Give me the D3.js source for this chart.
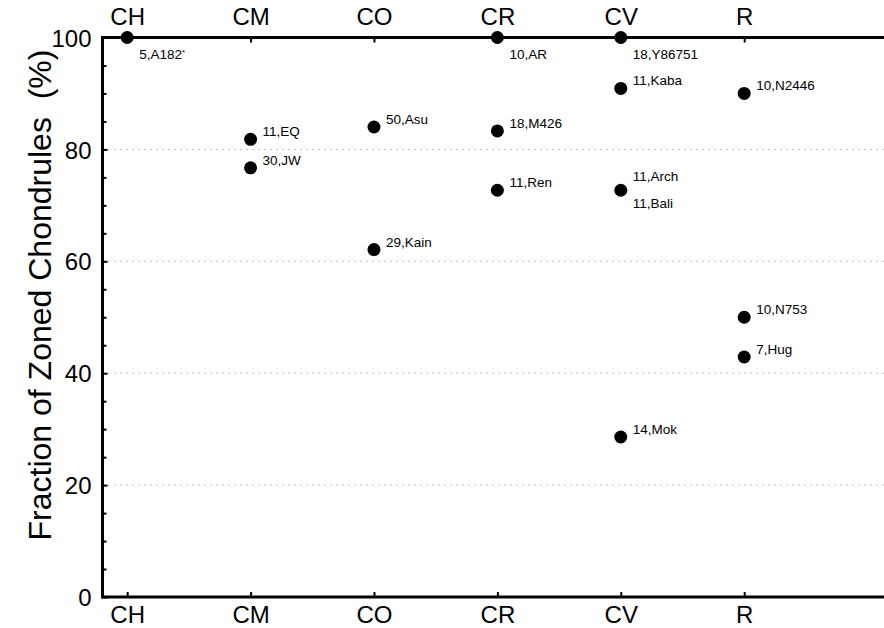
<!DOCTYPE html>
<html>
<head>
<meta charset="utf-8">
<script src="https://cdn.jsdelivr.net/npm/d3@7"></script>
<style>
  html, body { margin: 0; padding: 0; background: #fff; }
  svg { display: block; font-family: "Liberation Sans", Arial, Helvetica, sans-serif; }
</style>
</head>
<body>
<svg id="chart" width="884" height="628"></svg>
<script>
// ---- data ----
const categories = ["CH", "CM", "CO", "CR", "CV", "R"];
const pointCategory = ["CH", "CM", "CM", "CO", "CO", "CR", "CR", "CR", "CV", "CV", "CV", "CV", "R", "R", "R"];
const pointValue    = [100, 81.8, 76.7, 84.0, 62.1, 100, 83.3, 72.7, 100, 90.9, 72.7, 28.6, 90.0, 50.0, 42.9];
const pointLabel    = ["5,A182", "11,EQ", "30,JW", "50,Asu", "29,Kain", "10,AR", "18,M426", "11,Ren",
                       "18,Y86751", "11,Kaba", "11,Arch", "14,Mok", "10,N2446", "10,N753", "7,Hug"];
const extraLabel    = [{cat: "CV", value: 72.7, text: "11,Bali"}];
const yTicks = [0, 20, 40, 60, 80, 100];
const yMinorTicks = [5, 10, 15, 25, 30, 35, 45, 50, 55, 65, 70, 75, 85, 90, 95];
const gridValues = [20, 40, 60, 80];
const yTitle = "Fraction of Zoned Chondrules  (%)";

(function () {
const svg = d3.select("#chart");
const mLeft = 102.5, mTop = 37.5, mBottom = 597;
const catIndex = c => categories.indexOf(c) + 1;
const x = d3.scaleLinear().domain([0.8, 7.2]).range([mLeft, mLeft + 6.4 * 123.4]);
const y = d3.scaleLinear().domain([0, 100]).range([mBottom, mTop]);
const mRight = 900;

// gridlines
svg.append("g").selectAll("line").data(gridValues).join("line")
  .attr("x1", mLeft).attr("x2", mRight)
  .attr("y1", d => y(d)).attr("y2", d => y(d))
  .attr("stroke", "#999").attr("stroke-width", 1)
  .attr("stroke-dasharray", "1.2,4.8");

const axisStyle = g => {
  g.select(".domain").remove();
  g.selectAll(".tick line").attr("stroke", "#000").attr("stroke-width", 2);
  g.selectAll(".tick text").attr("fill", "#000").attr("font-size", 24)
    .attr("font-family", "Liberation Sans, Arial, Helvetica, sans-serif");
};

// bottom axis
svg.append("g").attr("transform", `translate(0,${mBottom})`)
  .call(d3.axisBottom(x).tickValues(categories.map(catIndex))
    .tickFormat(d => categories[d - 1]).tickSizeInner(-5).tickSizeOuter(0).tickPadding(12))
  .call(axisStyle)
  .call(g => g.selectAll(".tick text").attr("dy", "0.6em"));

// top axis
svg.append("g").attr("transform", `translate(0,${mTop})`)
  .call(d3.axisTop(x).tickValues(categories.map(catIndex))
    .tickFormat(d => categories[d - 1]).tickSizeInner(-5).tickSizeOuter(0).tickPadding(13))
  .call(axisStyle);

// left axis
svg.append("g").attr("transform", `translate(${mLeft},0)`)
  .call(d3.axisLeft(y).tickValues(yTicks).tickSizeInner(-5).tickSizeOuter(0).tickPadding(11))
  .call(axisStyle)
  .call(g => g.selectAll(".tick text").attr("dy", "0.36em"));

svg.append("g").attr("transform", `translate(${mLeft},0)`)
  .call(d3.axisLeft(y).tickValues(yMinorTicks).tickSizeInner(-4).tickSizeOuter(0).tickFormat(""))
  .call(axisStyle);

// frame lines
svg.append("line").attr("x1", mLeft).attr("x2", mRight).attr("y1", mTop).attr("y2", mTop)
  .attr("stroke", "#000").attr("stroke-width", 3);
svg.append("line").attr("x1", mLeft).attr("x2", mRight).attr("y1", mBottom).attr("y2", mBottom)
  .attr("stroke", "#000").attr("stroke-width", 3);
svg.append("line").attr("x1", mLeft).attr("x2", mLeft).attr("y1", mTop - 1.5).attr("y2", mBottom + 1.5)
  .attr("stroke", "#000").attr("stroke-width", 3);

// y title
svg.append("text")
  .attr("transform", `translate(51,295) rotate(-90)`)
  .attr("text-anchor", "middle").attr("font-size", 32).attr("fill", "#000")
  .style("white-space", "pre")
  .text(yTitle);

// points
const pts = pointValue.map((v, i) => ({cat: pointCategory[i], value: v, label: pointLabel[i]}));
svg.append("g").selectAll("circle").data(pts).join("circle")
  .attr("cx", d => x(catIndex(d.cat))).attr("cy", d => y(d.value))
  .attr("r", 6.5).attr("fill", "#000");

// labels
const lbl = svg.append("g").attr("font-size", 13.5).attr("fill", "#000");
pts.forEach(d => {
  let dy = -3;
  if (d.value === 100) dy = 21;
  if (d.label === "11,Arch") dy = -9;
  const t = lbl.append("text")
    .attr("x", x(catIndex(d.cat)) + 12)
    .attr("y", y(d.value) + dy)
    .text(d.label);
  if (d.label === "5,A182") {
    t.append("tspan").attr("font-size", 8).attr("dy", -4).text("*");
  }
});
extraLabel.forEach(d => {
  lbl.append("text")
    .attr("x", x(catIndex(d.cat)) + 12)
    .attr("y", y(d.value) + 18)
    .text(d.text);
});
})();
</script>
</body>
</html>
